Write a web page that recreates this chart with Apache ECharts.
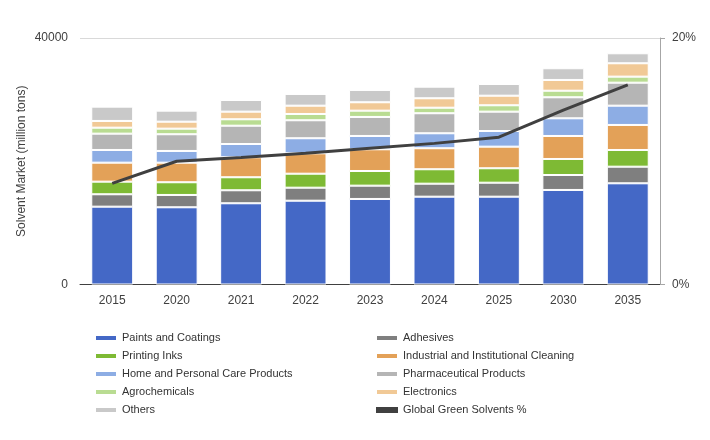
<!DOCTYPE html>
<html>
<head>
<meta charset="utf-8">
<script src="https://cdn.jsdelivr.net/npm/echarts@6/dist/echarts.min.js"></script>
<style>html,body{margin:0;padding:0;background:#fff}#c{width:710px;height:440px}</style>
</head>
<body>
<div id="c"></div>
<script>
var years = ['2015','2020','2021','2022','2023','2024','2025','2030','2035'];
var paints = [12630,12530,13180,13600,13880,14250,14250,15340,16420];
var adhesives = [2010,2000,2110,2110,2160,2110,2270,2430,2700];
var printing = [2050,2060,2110,2270,2380,2340,2340,2600,2710];
var industrial = [3080,3180,3250,3310,3520,3410,3510,3730,4060];
var home = [2060,1900,2150,2440,2160,2430,2540,2870,3130];
var pharma = [2650,2710,2970,2920,3090,3250,3140,3410,3730];
var agro = [970,910,1040,1020,1020,900,1030,1070,980];
var electronics = [1090,1130,1240,1350,1360,1530,1560,1740,2170];
var others = [2320,1790,1890,1900,2000,1880,1900,1900,1620];
var greenPct = [8.2,10.0,10.3,10.65,11.05,11.45,11.95,14.15,16.2];

var names = {
  paints:'Paints and Coatings', adhesives:'Adhesives', printing:'Printing Inks',
  industrial:'Industrial and Institutional Cleaning', home:'Home and Personal Care Products',
  pharma:'Pharmaceutical Products', agro:'Agrochemicals', electronics:'Electronics',
  others:'Others', green:'Global Green Solvents %'
};
var colors = {
  paints:'#4468C6', adhesives:'#7F7F7F', printing:'#7EBA34', industrial:'#E3A158',
  home:'#8DADE4', pharma:'#B5B5B5', agro:'#B9DC92', electronics:'#F1C996', others:'#C9C9C9'
};
var stackOrder = [['paints',paints],['adhesives',adhesives],['printing',printing],['industrial',industrial],
  ['home',home],['pharma',pharma],['agro',agro],['electronics',electronics],['others',others]];

var series = stackOrder.map(function(s){
  return {
    name: names[s[0]], type:'bar', stack:'total', data:s[1], barWidth:'65%',
    itemStyle:{color:colors[s[0]], borderColor:'#fff', borderWidth:1}
  };
});
series.push({
  name: names.green, type:'line', yAxisIndex:1, data:greenPct, symbol:'none',
  lineStyle:{color:'#404040', width:3}, itemStyle:{color:'#404040'}, z:10
});

var font = 'Liberation Sans, Arial, sans-serif';
var legendBase = {
  orient:'vertical', top:331, padding:0, itemWidth:22, itemHeight:6, itemGap:4, icon:'rect',
  textStyle:{fontFamily:font, fontSize:11, color:'#333', lineHeight:14},
  selectedMode:false
};
var chart = echarts.init(document.getElementById('c'));
chart.setOption({
  backgroundColor:'#fff',
  animation:false,
  grid:{left:80, right:50, top:38, bottom:155.5},
  legend:[
    Object.assign({}, legendBase, {left:94, data:[names.paints,names.printing,names.home,names.agro,names.others]}),
    Object.assign({}, legendBase, {left:375, data:[names.adhesives,names.industrial,names.pharma,names.electronics,names.green]})
  ],
  xAxis:{
    type:'category', data:years,
    axisLine:{lineStyle:{color:'#404040', width:1}},
    axisTick:{show:false},
    axisLabel:{fontFamily:font, fontSize:12, color:'#404040', margin:10}
  },
  yAxis:[{
    type:'value', min:0, max:40000, interval:40000,
    name:'Solvent Market (million tons)', nameLocation:'middle', nameGap:52, nameMoveOverlap:false,
    nameTextStyle:{fontFamily:font, fontSize:12, color:'#404040'},
    axisLine:{show:false}, axisTick:{show:false},
    axisLabel:{fontFamily:font, fontSize:12, color:'#404040', margin:12, formatter:function(v){return String(v);}},
    splitLine:{lineStyle:{color:'#D9D9D9'}}
  },{
    type:'value', min:0, max:20, interval:20, position:'right',
    axisLine:{show:true, lineStyle:{color:'#A6A6A6'}},
    axisTick:{show:true, inside:false, length:5, lineStyle:{color:'#A6A6A6'}},
    axisLabel:{fontFamily:font, fontSize:12, color:'#404040', margin:12, formatter:'{value}%'},
    splitLine:{show:false}
  }],
  series: series
});
</script>
</body>
</html>
